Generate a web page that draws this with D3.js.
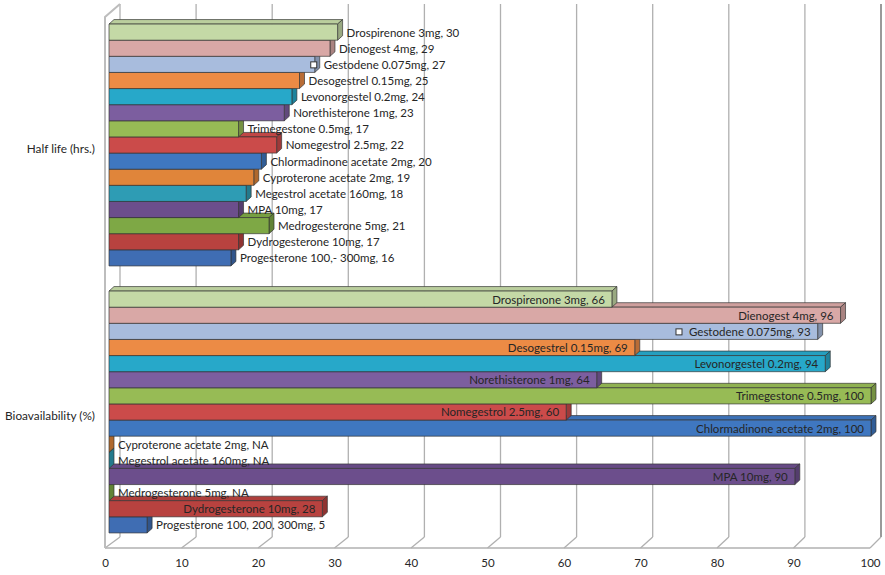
<!DOCTYPE html>
<html>
<head>
<meta charset="utf-8">
<script src="https://cdn.jsdelivr.net/npm/d3@7"></script>
<style>
  body { margin: 0; background: #fff; }
  text { font-family: Lato, "Open Sans", sans-serif; fill: #262626; }
</style>
</head>
<body>
<svg id="chart" width="885" height="575"></svg>
<script>
// Categories, top to bottom
const categories = ["Half life (hrs.)", "Bioavailability (%)"];

// One series per progestogen, listed bottom-up as they stack in each group
const seriesColors = [
  "#3f6db3", "#b8423f", "#7ea845", "#6c4e8c", "#2e9cb4",
  "#e0853a", "#3f77c0", "#cb4b4a", "#97bb55", "#7c5e9f",
  "#27a8c9", "#ec8b45", "#a8bcdd", "#d9a8a6", "#c4d9a6"
];
const halfLifeLabels = [
  "Progesterone 100,- 300mg", "Dydrogesterone 10mg", "Medrogesterone 5mg", "MPA 10mg",
  "Megestrol acetate 160mg", "Cyproterone acetate 2mg", "Chlormadinone acetate 2mg",
  "Nomegestrol 2.5mg", "Trimegestone 0.5mg", "Norethisterone 1mg", "Levonorgestel 0.2mg",
  "Desogestrel 0.15mg", "Gestodene 0.075mg", "Dienogest 4mg", "Drospirenone 3mg"
];
const halfLifeValues = [16, 17, 21, 17, 18, 19, 20, 22, 17, 23, 24, 25, 27, 29, 30];
const bioLabels = [
  "Progesterone 100, 200, 300mg", "Dydrogesterone 10mg", "Medrogesterone 5mg", "MPA 10mg",
  "Megestrol acetate 160mg", "Cyproterone acetate 2mg", "Chlormadinone acetate 2mg",
  "Nomegestrol 2.5mg", "Trimegestone 0.5mg", "Norethisterone 1mg", "Levonorgestel 0.2mg",
  "Desogestrel 0.15mg", "Gestodene 0.075mg", "Dienogest 4mg", "Drospirenone 3mg"
];
// null = not available (NA)
const bioValues = [5, 28, null, 90, null, null, 100, 60, 100, 64, 94, 69, 93, 96, 66];
// series whose data label carries a small square key
const keyedSeries = [false, false, false, false, false, false, false, false, false, false, false, false, true, false, false];
const xTicks = [0, 10, 20, 30, 40, 50, 60, 70, 80, 90, 100];

const groups = [
  { category: categories[0], labels: halfLifeLabels, values: halfLifeValues, inside: false },
  { category: categories[1], labels: bioLabels, values: bioValues, inside: true }
];

const svg = d3.select("#chart");

// 3-D box: front face of bars, back wall and front floor edge each get their own x scale
const barX = d3.scaleLinear().domain([0, 100]).range([109, 871]);
const wallX = d3.scaleLinear().domain([0, 100]).range([120, 881]);
const floorX = d3.scaleLinear().domain([0, 100]).range([105, 870]);
const wallTop = 4, wallBottom = 537, floorFront = 548;
const depthX = 5, depthY = -4.5;

const catY = d3.scaleBand().domain(categories).range([11.5, 545.5])
  .paddingInner(0.094).paddingOuter(0.047);
const seriesY = d3.scaleBand().domain(d3.range(15).reverse()).range([0, catY.bandwidth()]);

const gridColor = "#b0b0b0";

// back wall gridlines
const grid = svg.append("g");
grid.selectAll("line.wall").data(xTicks).join("line")
  .attr("x1", d => wallX(d)).attr("x2", d => wallX(d))
  .attr("y1", wallTop).attr("y2", wallBottom)
  .attr("stroke", d => d === 100 ? "#9a9a9a" : gridColor)
  .attr("stroke-width", d => d === 100 ? 2 : 1.3);
// floor diagonals
grid.selectAll("line.floor").data(xTicks).join("line")
  .attr("x1", d => floorX(d)).attr("y1", floorFront)
  .attr("x2", d => wallX(d)).attr("y2", wallBottom)
  .attr("stroke", gridColor).attr("stroke-width", 1.3);
// front floor edge
grid.append("line")
  .attr("x1", floorX(0)).attr("x2", floorX(100))
  .attr("y1", floorFront).attr("y2", floorFront)
  .attr("stroke", gridColor).attr("stroke-width", 1.3);
// left side wall edge
grid.append("path")
  .attr("d", `M${floorX(0)},${floorFront}V${wallTop + 13}L${wallX(0)},${wallTop}`)
  .attr("fill", "none").attr("stroke", "#bdbdbd").attr("stroke-width", 2);

// bars
const bars = [];
groups.forEach(g => {
  g.values.forEach((v, i) => {
    bars.push({
      group: g, i, v,
      label: g.labels[i] + ", " + (v == null ? "NA" : v),
      color: seriesColors[i],
      y0: catY(g.category) + seriesY(i),
      h: seriesY.bandwidth(),
      x0: barX(0),
      x1: barX(v == null ? 0 : v)
    });
  });
});

const barG = svg.append("g").selectAll("g").data(bars).join("g")
  .attr("stroke", "#333").attr("stroke-opacity", 0.75).attr("stroke-width", 0.9)
  .attr("stroke-linejoin", "round");
barG.append("path")
  .attr("fill", d => d3.color(d.color).darker(0.15))
  .attr("d", d => `M${d.x0},${d.y0}L${d.x0 + depthX},${d.y0 + depthY}H${d.x1 + depthX}L${d.x1},${d.y0}Z`);
barG.append("path")
  .attr("fill", d => d3.color(d.color).darker(0.7))
  .attr("d", d => `M${d.x1},${d.y0}L${d.x1 + depthX},${d.y0 + depthY}V${d.y0 + d.h + depthY}L${d.x1},${d.y0 + d.h}Z`);
barG.filter(d => d.x1 > d.x0).append("rect")
  .attr("fill", d => d.color)
  .attr("x", d => d.x0).attr("y", d => d.y0)
  .attr("width", d => d.x1 - d.x0).attr("height", d => d.h);

// data labels
const fontSize = 11.5;
const labelG = svg.append("g").style("font-size", fontSize + "px");
bars.forEach(d => {
  const t = labelG.append("text").text(d.label)
    .attr("y", d.y0 + d.h / 2 + 1.5).attr("dominant-baseline", "middle");
  const w = t.node().getComputedTextLength();
  let start;
  if (d.group.inside && d.x1 - d.x0 > w + 14) {
    start = d.x1 - 7 - w;
  } else {
    start = d.x1 + depthX + 4;
  }
  t.attr("x", start);
  if (keyedSeries[d.i]) {
    labelG.append("rect")
      .attr("x", start - 13).attr("y", d.y0 + d.h / 2 - 2.5)
      .attr("width", 6).attr("height", 6)
      .attr("fill", "#fff").attr("stroke", "#333").attr("stroke-width", 1);
  }
});

// category labels
svg.append("g").style("font-size", "11.8px")
  .selectAll("text").data(categories).join("text")
  .attr("x", 95).attr("y", d => catY(d) + catY.bandwidth() / 2 + 5)
  .attr("text-anchor", "end").attr("dominant-baseline", "middle")
  .text(d => d);

// value axis along the front floor edge
const axis = svg.append("g").attr("transform", `translate(0,${floorFront + 9})`)
  .call(d3.axisBottom(floorX).tickValues(xTicks).tickSize(0).tickPadding(2));
axis.select(".domain").remove();
axis.selectAll("text").style("font-size", "11.5px")
  .style("font-family", "Lato, 'Open Sans', sans-serif").attr("fill", "#262626");
</script>
</body>
</html>
